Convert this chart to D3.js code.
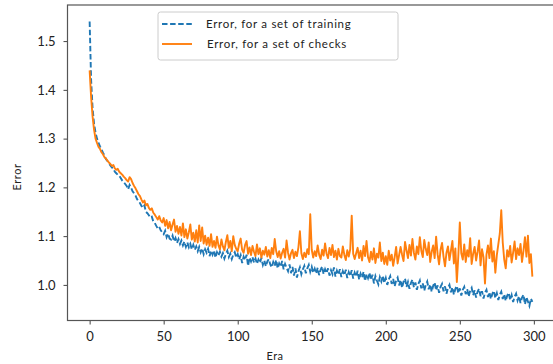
<!DOCTYPE html>
<html>
<head>
<meta charset="utf-8">
<script src="https://cdn.jsdelivr.net/npm/d3@7"></script>
<style>
  body { margin: 0; background: #fff; }
  svg { display: block; }
</style>
</head>
<body>
<div id="chart"></div>
<script>
const xTicks = [0, 50, 100, 150, 200, 250, 300];
const yTicks = [1.0, 1.1, 1.2, 1.3, 1.4, 1.5];

// error on the training set, one value per era (0..299)
const trainError = [
  1.540, 1.420, 1.362, 1.330, 1.312, 1.300, 1.291, 1.284, 1.278, 1.271,
  1.266, 1.258, 1.254, 1.250, 1.245, 1.241, 1.238, 1.232, 1.229, 1.226,
  1.224, 1.219, 1.214, 1.211, 1.207, 1.203, 1.196, 1.205, 1.199, 1.192,
  1.188, 1.183, 1.176, 1.171, 1.168, 1.162, 1.158, 1.163, 1.150, 1.147,
  1.143, 1.138, 1.140, 1.130, 1.127, 1.121, 1.116, 1.119, 1.112, 1.108,
  1.104, 1.111, 1.098, 1.105, 1.095, 1.093, 1.101, 1.089, 1.096, 1.086,
  1.094, 1.084, 1.091, 1.081, 1.089, 1.078, 1.087, 1.077, 1.084, 1.073,
  1.082, 1.072, 1.079, 1.069, 1.078, 1.067, 1.075, 1.063, 1.073, 1.066,
  1.074, 1.059, 1.070, 1.062, 1.071, 1.056, 1.067, 1.060, 1.068, 1.058,
  1.065, 1.054, 1.063, 1.070, 1.057, 1.064, 1.053, 1.062, 1.067, 1.056,
  1.063, 1.052, 1.061, 1.045, 1.058, 1.051, 1.062, 1.039, 1.056, 1.048,
  1.057, 1.046, 1.054, 1.043, 1.052, 1.045, 1.055, 1.041, 1.050, 1.038,
  1.048, 1.053, 1.042, 1.036, 1.047, 1.039, 1.051, 1.034, 1.044, 1.037,
  1.049, 1.032, 1.043, 1.035, 1.028, 1.042, 1.024, 1.037, 1.019, 1.034,
  1.015, 1.028, 1.036, 1.022, 1.032, 1.039, 1.024, 1.034, 1.041, 1.027,
  1.037, 1.025, 1.033, 1.023, 1.035, 1.020, 1.031, 1.038, 1.022, 1.032,
  1.024, 1.034, 1.019, 1.030, 1.022, 1.036, 1.017, 1.029, 1.021, 1.032,
  1.016, 1.028, 1.020, 1.031, 1.014, 1.026, 1.018, 1.030, 1.013, 1.025,
  1.017, 1.029, 1.011, 1.023, 1.015, 1.027, 1.008, 1.022, 1.014, 1.025,
  1.010, 1.021, 1.003, 1.018, 1.009, 1.001, 1.016, 1.007, 1.019, 1.004,
  1.014, 1.000, 1.011, 1.018, 1.002, 1.012, 0.997, 1.009, 1.015, 0.999,
  1.010, 0.994, 1.007, 1.013, 0.996, 1.006, 0.992, 1.004, 1.011, 0.995,
  1.005, 0.990, 1.002, 1.009, 0.993, 1.003, 0.988, 1.000, 1.007, 0.991,
  1.001, 0.986, 0.998, 1.005, 0.989, 0.999, 0.984, 0.996, 1.002, 0.987,
  0.997, 0.982, 0.994, 1.000, 0.985, 0.995, 0.980, 0.992, 0.998, 0.983,
  0.993, 0.978, 0.990, 0.996, 0.981, 0.991, 0.976, 0.988, 0.994, 0.979,
  0.989, 0.974, 0.986, 0.992, 0.977, 0.987, 0.972, 0.984, 0.990, 0.975,
  0.985, 0.971, 0.982, 0.988, 0.973, 0.983, 0.969, 0.980, 0.986, 0.971,
  0.981, 0.967, 0.978, 0.984, 0.969, 0.979, 0.965, 0.976, 0.982, 0.968,
  0.977, 0.963, 0.974, 0.980, 0.960, 0.975, 0.966, 0.957, 0.972, 0.965
];

// error on the check set
const checkError = [
  1.440, 1.385, 1.345, 1.318, 1.300, 1.291, 1.283, 1.279, 1.272, 1.268,
  1.262, 1.259, 1.255, 1.251, 1.248, 1.244, 1.246, 1.239, 1.236, 1.238,
  1.232, 1.229, 1.226, 1.222, 1.219, 1.215, 1.212, 1.221, 1.217, 1.209,
  1.203, 1.198, 1.192, 1.186, 1.182, 1.175, 1.169, 1.173, 1.163, 1.166,
  1.158, 1.154, 1.157, 1.148, 1.144, 1.139, 1.134, 1.141, 1.132, 1.128,
  1.137, 1.121, 1.133, 1.116, 1.129, 1.112, 1.124, 1.134, 1.109, 1.121,
  1.105, 1.119, 1.101, 1.126, 1.098, 1.114, 1.095, 1.108, 1.124, 1.093,
  1.107, 1.089, 1.112, 1.087, 1.122, 1.090, 1.118, 1.085, 1.101, 1.082,
  1.097, 1.080, 1.104, 1.078, 1.090, 1.076, 1.099, 1.081, 1.073, 1.093,
  1.079, 1.071, 1.088, 1.102, 1.076, 1.090, 1.069, 1.100, 1.082, 1.074,
  1.069, 1.085, 1.095, 1.072, 1.066, 1.082, 1.090, 1.064, 1.077, 1.061,
  1.080, 1.068, 1.059, 1.083, 1.063, 1.075, 1.056, 1.070, 1.062, 1.078,
  1.058, 1.071, 1.055, 1.076, 1.063, 1.094, 1.069, 1.057, 1.069, 1.054,
  1.066, 1.074, 1.056, 1.091, 1.066, 1.052, 1.065, 1.072, 1.055, 1.068,
  1.059, 1.077, 1.110, 1.065, 1.053, 1.066, 1.057, 1.073, 1.063, 1.145,
  1.072, 1.056, 1.069, 1.059, 1.081, 1.062, 1.053, 1.072, 1.060, 1.085,
  1.064, 1.055, 1.076, 1.061, 1.082, 1.057, 1.070, 1.052, 1.074, 1.059,
  1.056, 1.079, 1.062, 1.051, 1.071, 1.058, 1.073, 1.142, 1.064, 1.053,
  1.065, 1.076, 1.055, 1.070, 1.050, 1.080, 1.059, 1.090, 1.057, 1.047,
  1.068, 1.052, 1.075, 1.045, 1.064, 1.056, 1.087, 1.049, 1.066, 1.043,
  1.059, 1.041, 1.070, 1.050, 1.062, 1.039, 1.057, 1.078, 1.044, 1.061,
  1.078, 1.062, 1.049, 1.088, 1.071, 1.055, 1.082, 1.060, 1.094, 1.066,
  1.052, 1.079, 1.063, 1.098, 1.070, 1.057, 1.092, 1.074, 1.061, 1.087,
  1.047, 1.068, 1.081, 1.055, 1.099, 1.063, 1.042, 1.072, 1.086, 1.058,
  1.038, 1.066, 1.079, 1.051, 1.070, 1.090, 1.044, 1.075, 1.006, 1.060,
  1.128, 1.065, 1.052, 1.083, 1.047, 1.071, 1.058, 1.096, 1.043, 1.064,
  1.078, 1.050, 1.068, 1.091, 1.040, 1.073, 1.057, 1.003, 1.062, 1.081,
  1.055, 1.095, 1.048, 1.069, 1.025, 1.061, 1.083, 1.105, 1.153, 1.087,
  1.052, 1.034, 1.071, 1.058, 1.080, 1.046, 1.066, 1.089, 1.053, 1.075,
  1.061, 1.084, 1.047, 1.070, 1.098, 1.058, 1.101, 1.045, 1.063, 1.017
];

const seriesNames = ['Error, for a set of training', 'Error, for a set of checks'];

const W = 553, H = 364;
const svg = d3.select('#chart').append('svg')
  .attr('width', W)
  .attr('height', H);

// plot area in pixels (right spine sits just outside the picture)
const plotLeft = 67.5, plotRight = 554.5, plotTop = 5, plotBottom = 320.5;

const x = d3.scaleLinear().domain([-14.95, 313.95]).range([plotLeft, plotRight]);
const y = d3.scaleLinear().domain([0.927, 1.574]).range([plotBottom, plotTop]);

const font = 'Lato, "DejaVu Sans", sans-serif';

// data lines
const line = d3.line()
  .x((d, i) => x(i))
  .y(d => y(d));

const plot = svg.append('g');

plot.append('path')
  .datum(trainError)
  .attr('fill', 'none')
  .attr('stroke', '#1f77b4')
  .attr('stroke-width', 1.9)
  .attr('stroke-dasharray', '5.5,2.6')
  .attr('d', line);

plot.append('path')
  .datum(checkError)
  .attr('fill', 'none')
  .attr('stroke', '#ff7f0e')
  .attr('stroke-width', 1.9)
  .attr('stroke-linejoin', 'round')
  .attr('d', line);

// axes
const xAxis = svg.append('g')
  .attr('transform', `translate(0,${plotBottom})`)
  .call(d3.axisBottom(x).tickValues(xTicks).tickSize(4).tickSizeOuter(0).tickPadding(7).tickFormat(d3.format('d')));

const yAxis = svg.append('g')
  .attr('transform', `translate(${plotLeft},0)`)
  .call(d3.axisLeft(y).tickValues(yTicks).tickSize(4).tickSizeOuter(0).tickPadding(8).tickFormat(d3.format('.1f')));

[xAxis, yAxis].forEach(a => {
  a.select('.domain').remove();
  a.selectAll('line').attr('stroke', '#444').attr('stroke-width', 1);
  a.selectAll('text')
    .style('font-family', font)
    .style('font-size', '13px')
    .attr('fill', '#222');
});

// spines
svg.append('rect')
  .attr('x', plotLeft)
  .attr('y', plotTop)
  .attr('width', plotRight - plotLeft)
  .attr('height', plotBottom - plotTop)
  .attr('fill', 'none')
  .attr('stroke', '#555')
  .attr('stroke-width', 1.2);

// axis labels
svg.append('text')
  .attr('x', 275)
  .attr('y', 360)
  .attr('text-anchor', 'middle')
  .style('font-family', font)
  .style('font-size', '11px')
  .style('letter-spacing', '0.4px')
  .attr('fill', '#222')
  .text('Era');

svg.append('text')
  .attr('transform', 'translate(21,177) rotate(-90)')
  .attr('text-anchor', 'middle')
  .style('font-family', font)
  .style('font-size', '11px')
  .style('letter-spacing', '0.6px')
  .attr('fill', '#222')
  .text('Error');

// legend
const legend = svg.append('g').attr('transform', 'translate(158,12)');

legend.append('rect')
  .attr('width', 240)
  .attr('height', 48)
  .attr('rx', 2.5)
  .attr('fill', '#fff')
  .attr('fill-opacity', 0.8)
  .attr('stroke', '#ccc')
  .attr('stroke-width', 1);

const styles = [
  { color: '#1f77b4', dash: '5.5,2.6' },
  { color: '#ff7f0e', dash: null }
];

seriesNames.forEach((name, i) => {
  const row = legend.append('g').attr('transform', `translate(0,${12 + i * 20})`);
  row.append('line')
    .attr('x1', 4).attr('x2', 34)
    .attr('y1', 0).attr('y2', 0)
    .attr('stroke', styles[i].color)
    .attr('stroke-width', 1.9)
    .attr('stroke-dasharray', styles[i].dash);
  row.append('text')
    .attr('x', 48 + i)
    .attr('y', 0)
    .attr('dy', '0.35em')
    .style('font-family', font)
    .style('font-size', '11.5px')
    .style('letter-spacing', '0.7px')
    .attr('fill', '#222')
    .text(name);
});
</script>
</body>
</html>
